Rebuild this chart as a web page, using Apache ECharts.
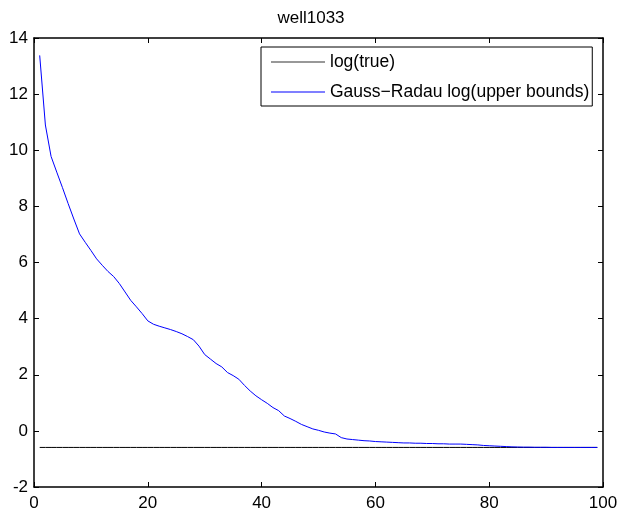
<!DOCTYPE html>
<html>
<head>
<meta charset="utf-8">
<script src="https://cdn.jsdelivr.net/npm/echarts@6/dist/echarts.min.js"></script>
<style>html,body{margin:0;padding:0;background:#fff}#c{width:622px;height:518px}</style>
</head>
<body>
<div id="c"></div>
<script>
const titleText = "well1033";
const seriesNames = ["log(true)", "Gauss\u2212Radau log(upper bounds)"];
const xTicks = [0, 20, 40, 60, 80, 100];
const yTicks = [-2, 0, 2, 4, 6, 8, 10, 12, 14];
const trueValue = -0.59;
const upperBounds = [
  13.38, 10.9, 9.78, 9.22, 8.67, 8.1, 7.55, 7.02, 6.72, 6.43,
  6.13, 5.9, 5.68, 5.5, 5.25, 4.95, 4.65, 4.42, 4.18, 3.92,
  3.8, 3.73, 3.67, 3.61, 3.54, 3.46, 3.36, 3.25, 3.02, 2.72,
  2.56, 2.4, 2.28, 2.08, 1.97, 1.84, 1.62, 1.42, 1.25, 1.11,
  0.98, 0.83, 0.72, 0.53, 0.44, 0.34, 0.23, 0.15, 0.07, 0.02,
  -0.04, -0.08, -0.11, -0.24, -0.29, -0.31, -0.33, -0.35, -0.36, -0.38,
  -0.39, -0.40, -0.41, -0.42, -0.43, -0.43, -0.44, -0.44, -0.45, -0.45,
  -0.46, -0.46, -0.47, -0.47, -0.47, -0.48, -0.49, -0.50, -0.52, -0.53,
  -0.54, -0.55, -0.56, -0.57, -0.575, -0.58, -0.58, -0.585, -0.585, -0.585,
  -0.59, -0.59, -0.59, -0.59, -0.59, -0.59, -0.59, -0.59, -0.59
];

const iters = upperBounds.map((_, i) => i + 1);
const blueData = iters.map((x, i) => [x, upperBounds[i]]);
const trueData = iters.map(x => [x, trueValue]);

const FONT = "'Liberation Sans', Arial, sans-serif";
const FS = 17;

function axisCommon() {
  return {
    axisLine: { show: true, onZero: false, lineStyle: { color: '#000', width: 1.5 } },
    axisTick: { show: true, inside: true, length: 5, lineStyle: { color: '#000' } },
    splitLine: { show: false }
  };
}

const chart = echarts.init(document.getElementById('c'), null, { renderer: 'canvas' });
chart.setOption({
  backgroundColor: '#fff',
  animation: false,
  title: {
    text: titleText, left: 'center', top: 5,
    textStyle: { fontFamily: FONT, fontSize: FS, fontWeight: 'normal', color: '#000' }
  },
  legend: {
    orient: 'vertical', left: 261, top: 47,
    backgroundColor: '#fff',
    borderColor: '#000', borderWidth: 1, borderRadius: 0,
    padding: [6, 3, 5, 10],
    itemGap: 12, itemWidth: 54, itemHeight: 1,
    icon: 'rect',
    textStyle: { fontFamily: FONT, fontSize: 17.5, color: '#000', padding: [0, 0, 0, 0] },
    data: [
      { name: seriesNames[0], itemStyle: { color: '#333' } },
      { name: seriesNames[1], itemStyle: { color: '#0000ff' } }
    ]
  },
  grid: { left: 34, right: 19, top: 38, bottom: 31, containLabel: false },
  xAxis: [
    Object.assign(axisCommon(), {
      type: 'value', min: xTicks[0], max: xTicks[xTicks.length - 1], interval: 20,
      position: 'bottom',
      axisLabel: { fontFamily: FONT, fontSize: FS, color: '#000', margin: 8 }
    }),
    Object.assign(axisCommon(), {
      type: 'value', min: xTicks[0], max: xTicks[xTicks.length - 1], interval: 20,
      position: 'top', axisLabel: { show: false }
    })
  ],
  yAxis: [
    Object.assign(axisCommon(), {
      type: 'value', min: yTicks[0], max: yTicks[yTicks.length - 1], interval: 2,
      position: 'left',
      axisLabel: { fontFamily: FONT, fontSize: FS, color: '#000', margin: 6 }
    }),
    Object.assign(axisCommon(), {
      type: 'value', min: yTicks[0], max: yTicks[yTicks.length - 1], interval: 2,
      position: 'right', axisLabel: { show: false }
    })
  ],
  series: [
    {
      name: seriesNames[0], type: 'line', data: trueData,
      showSymbol: false, symbol: 'none',
      lineStyle: { color: '#000', width: 1 }, itemStyle: { color: '#000' }
    },
    {
      name: seriesNames[1], type: 'line', data: blueData,
      showSymbol: false, symbol: 'none',
      lineStyle: { color: '#0000ff', width: 1 }, itemStyle: { color: '#0000ff' }
    }
  ]
});
</script>
</body>
</html>
